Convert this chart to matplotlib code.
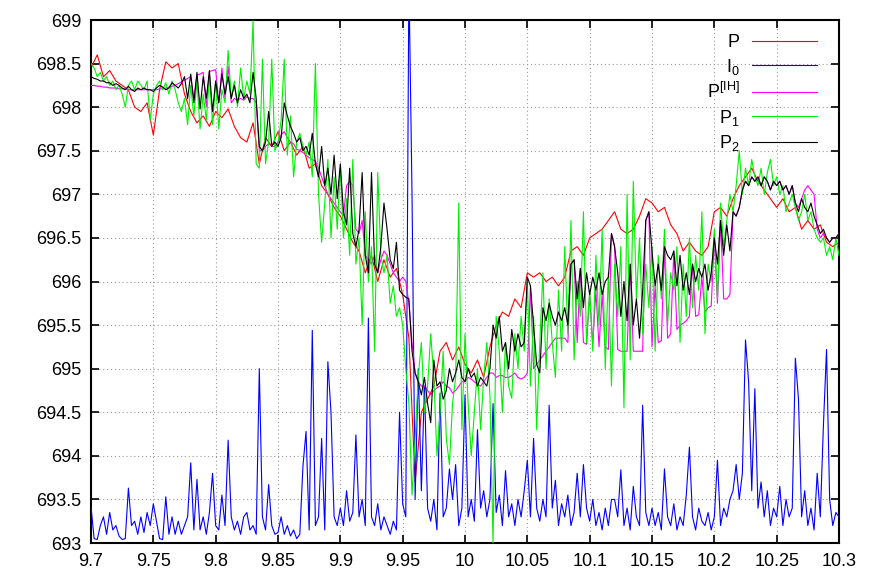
import numpy as np
import matplotlib
matplotlib.use("Agg")
import matplotlib.pyplot as plt

plt.rcParams['font.family'] = ['Liberation Sans', 'DejaVu Sans']
plt.rcParams['mathtext.fontset'] = 'custom'
plt.rcParams['mathtext.rm'] = 'Liberation Sans'
plt.rcParams['mathtext.it'] = 'Liberation Sans'
plt.rcParams['mathtext.default'] = 'regular'

T_START, T_END = 9.7, 10.3

# P (red), sampled every 0.005
P = [698.45, 698.6, 698.35, 698.42, 698.3, 698.25, 698.2, 698.0, 697.95, 698.05,
     697.68, 698.2, 698.52, 698.45, 698.5, 698.15, 697.95, 697.82, 697.9, 697.78,
     697.95, 697.88, 697.98, 697.78, 697.65, 697.6, 697.82, 697.35, 697.65, 697.55,
     697.72, 697.5, 697.6, 697.45, 697.55, 697.3, 697.35, 697.1, 697.0, 696.85,
     696.75, 696.6, 696.45, 696.35, 696.1, 696.3, 696.0, 696.25, 696.05, 696.15,
     695.85, 695.35, 693.7, 694.5, 694.65, 694.8, 695.2, 695.3, 695.1, 695.25,
     695.05, 694.95, 695.1, 694.9, 695.25, 695.5, 695.65, 695.6, 695.8, 695.7,
     696.1, 696.05, 696.1, 696.0, 696.05, 695.95, 696.05, 696.35, 696.4, 696.3,
     696.5, 696.55, 696.6, 696.7, 696.8, 696.6, 696.55, 696.6, 696.75, 696.95,
     696.9, 696.8, 696.85, 696.65, 696.55, 696.35, 696.45, 696.35, 696.3, 696.4,
     696.8, 696.85, 696.75, 696.95, 697.1, 697.2, 697.3, 697.15, 697.05, 696.95,
     696.85, 696.95, 696.8, 696.85, 696.6, 696.7, 696.6, 696.65, 696.45, 696.4,
     696.45]

# I0 (blue), sampled every 0.0025
I0 = [693.42, 693.05, 693.04, 693.2, 693.3, 693.1, 693.35, 693.15, 693.2, 693.08,
      693.04, 693.05, 693.63, 693.2, 693.25, 693.1, 693.3, 693.12, 693.35, 693.2,
      693.45, 693.25, 693.05, 693.04, 693.53, 693.1, 693.3, 693.1, 693.25, 693.1,
      693.2, 693.3, 693.92, 693.15, 693.73, 693.15, 693.3, 693.1, 693.35, 693.8,
      693.2, 693.15, 693.55, 693.2, 694.18, 693.3, 693.15, 693.25, 693.1, 693.3,
      693.35, 693.15, 693.2, 693.1, 695.0, 693.3, 693.15, 693.67, 693.2, 693.1,
      693.12, 693.3, 693.1, 693.2, 693.08, 693.15, 693.05, 693.1, 693.88, 694.28,
      693.15, 695.44, 693.2, 693.3, 694.2, 693.15, 695.08, 694.5, 693.3, 693.2,
      693.4, 693.2, 693.6, 693.25, 693.35, 694.24, 693.3, 693.5, 693.2, 695.58,
      693.3, 693.2, 693.45, 693.15, 693.3, 693.2, 693.1, 693.25, 693.15, 694.5,
      693.45, 693.3, 699.5, 697.0, 693.5, 695.0, 693.6, 694.8, 693.4, 693.25,
      693.5, 693.15, 694.72, 693.3, 693.4, 693.85, 693.5, 693.9, 693.2, 693.4,
      694.7, 693.3, 693.5, 693.25, 694.3, 693.4, 693.6, 693.3, 693.5, 694.6,
      693.35, 693.55, 693.2, 693.83, 693.3, 693.45, 693.2, 693.5, 693.3, 693.6,
      693.95, 693.3, 694.2, 693.4, 693.25, 693.5, 693.3, 694.58, 693.4, 693.72,
      693.2, 693.45, 693.3, 693.55, 693.2, 693.35, 693.8, 693.3, 693.9, 693.4,
      693.25, 693.5, 693.2, 693.35, 693.15, 693.4, 693.2, 693.5, 693.5, 693.3,
      693.84, 693.2, 693.4, 693.15, 693.65, 693.3, 693.2, 694.58, 693.35, 693.2,
      693.4, 693.2, 693.35, 693.15, 693.85, 693.3, 693.2, 693.45, 693.15, 693.3,
      693.2, 693.55, 694.1, 693.3, 693.15, 693.4, 693.25, 693.2, 693.35, 693.15,
      693.3, 693.95, 693.2, 693.4, 693.3, 693.5, 693.6, 693.9, 693.5, 693.8,
      695.33, 694.85, 693.6, 694.77, 693.4, 693.7, 693.3, 693.6, 693.2, 693.4,
      693.3, 693.65, 693.2, 693.5, 693.3, 693.4, 695.12, 694.65, 693.3, 693.6,
      693.2, 693.4, 693.15, 693.8, 693.3, 694.35, 695.22, 693.5, 693.2, 693.35,
      693.3]

# P^[IH] (magenta), sampled every 0.0025
P_IH = [698.25, 698.25, 698.24, 698.24, 698.23, 698.23, 698.22, 698.22, 698.22, 698.21,
        698.21, 698.21, 698.2, 698.2, 698.2, 698.2, 698.2, 698.2, 698.2, 698.2,
        698.2, 698.2, 698.21, 698.21, 698.22, 698.23, 698.24, 698.25, 698.27, 698.29,
        698.31, 698.33, 698.35, 698.1, 698.37, 698.38, 698.4, 698.0, 698.41, 698.42,
        698.43, 698.05, 698.45, 698.1, 698.47, 698.05, 698.1, 698.08, 698.1, 698.08,
        698.12, 698.1, 698.1, 698.05, 697.5, 697.5, 697.55, 697.58, 697.55, 697.55,
        697.6, 697.68, 697.72, 697.65, 697.6, 697.58, 697.52, 697.5, 697.48, 697.45,
        697.42, 697.4, 697.38, 697.3, 697.2, 697.1, 697.0, 696.95, 696.9, 696.85,
        696.8, 696.75, 697.1, 697.15, 697.1, 696.6, 696.55, 696.7, 696.3, 696.25,
        696.2, 696.3, 696.1, 696.25, 696.35, 696.3, 696.2, 696.1, 696.05, 696.0,
        696.05, 696.0, 695.75, 695.3, 694.95, 694.85, 694.8, 694.8, 694.75, 694.7,
        694.75, 694.78, 694.8, 694.85, 694.8, 694.78, 694.72, 694.75, 694.8, 694.85,
        694.85, 694.9, 694.88, 694.85, 694.82, 694.8, 694.85, 694.9, 694.95, 694.95,
        694.9, 694.92, 694.92, 694.9, 694.9, 694.92, 694.95, 694.9, 694.88, 694.9,
        694.95, 695.95, 695.0, 695.05, 695.1, 695.15, 695.2, 695.25, 695.3, 695.35,
        695.35, 695.35, 695.35, 695.3, 696.2, 696.25, 695.3, 696.15, 695.3, 695.28,
        695.85, 695.28, 695.9, 695.25, 695.85, 695.25, 695.22, 696.55, 696.4, 695.22,
        695.2, 695.2, 695.2, 696.2, 695.2, 695.2, 695.2, 695.2, 696.7, 696.8,
        695.25, 695.95, 695.3, 695.32, 696.4, 695.35, 695.4, 696.35, 695.45, 695.5,
        695.52, 695.55, 695.6, 696.2, 695.6, 695.62, 696.05, 695.65, 695.7, 695.72,
        696.5, 695.75, 696.7, 695.8, 695.8, 695.85, 696.8, 696.75, 696.85, 697.05,
        697.15, 697.1, 697.2, 697.15, 697.2, 697.1, 697.2, 697.15, 697.05, 697.15,
        697.1, 697.15, 697.05, 697.1, 697.0, 697.1, 696.9, 696.85, 696.95, 697.05,
        697.1, 697.05, 697.0, 696.6, 696.5, 696.55, 696.5, 696.45, 696.5, 696.5,
        696.55]

# P1 (green), sampled every 0.0025
P1 = [698.5, 698.45, 698.35, 698.4, 698.3, 698.35, 698.25, 698.3, 698.2, 698.25,
      698.15, 698.0, 698.25, 698.3, 698.2, 698.3, 698.25, 698.2, 698.3, 697.85,
      698.15, 698.25, 698.3, 698.2, 698.28, 698.15, 698.3, 698.2, 698.05, 697.95,
      698.1, 697.8, 698.25, 697.9, 698.3, 697.75, 698.15, 697.85, 698.35, 697.8,
      698.3, 697.75, 698.2, 698.05, 698.65, 698.1, 698.3, 698.0, 698.45, 698.1,
      698.3, 698.15, 698.99, 697.35, 697.3, 698.55, 697.35, 697.6, 698.55, 697.5,
      697.6, 697.85, 698.55, 697.45, 697.9, 697.2, 697.6, 697.7, 697.55, 697.45,
      697.6, 697.2, 698.5, 697.0, 696.45, 696.9, 697.4, 696.5, 697.2, 696.6,
      697.3, 696.5, 696.95, 696.3, 697.4, 696.2, 696.5, 695.5, 696.8, 696.0,
      696.4, 695.2, 697.25, 696.3, 696.1, 696.3, 695.75, 695.95, 695.6, 695.7,
      695.5, 695.0, 694.6, 693.55, 694.2, 694.9, 695.3, 694.5, 694.8, 695.4,
      694.9, 694.0, 694.5, 695.2, 694.2, 693.9, 694.6, 694.9, 696.9, 694.3,
      695.4, 694.6, 694.0, 694.5, 695.0, 694.3, 694.9, 695.3, 694.7, 693.0,
      695.6, 695.2, 694.5, 695.3, 694.8, 694.66, 695.4, 695.0, 695.6, 695.2,
      696.0, 694.8, 695.6, 694.3, 695.3, 696.1, 695.0, 695.8, 695.3, 694.9,
      695.9, 695.2, 696.4, 695.4, 696.7, 695.1, 696.0, 695.6, 696.8, 695.3,
      695.9, 695.2, 696.3, 695.5, 696.6, 695.0, 696.1, 694.8, 696.2, 695.6,
      696.4, 694.55, 697.0, 695.1, 697.15, 695.8, 696.5, 695.4, 696.2, 695.7,
      696.4, 695.2, 696.3, 695.8, 696.6, 695.5, 696.1, 695.9, 696.4, 695.3,
      696.2, 695.6, 696.5, 695.7, 696.3, 695.9, 696.8, 695.4, 696.2, 696.0,
      696.6, 695.8, 696.9, 696.4, 696.7, 697.0, 696.8, 697.1, 697.5, 697.0,
      697.3, 697.1, 697.4, 697.2, 697.1, 697.3, 697.0, 697.25, 697.4, 697.1,
      697.2, 697.0, 697.1, 696.8, 696.9, 697.0, 696.85, 696.7, 696.8, 697.0,
      696.7, 696.8, 696.6, 696.5, 696.45, 696.5, 696.3, 696.4, 696.25, 696.5,
      696.3]

# P2 (black), sampled every 0.0025
P2 = [698.35, 698.33, 698.32, 698.3, 698.3, 698.28, 698.28, 698.25, 698.27, 698.25,
      698.22, 698.2, 698.24, 698.2, 698.18, 698.22, 698.2, 698.22, 698.2, 698.2,
      698.18, 698.22, 698.25, 698.23, 698.2, 698.22, 698.28, 698.25, 698.22, 698.27,
      698.35, 698.1, 698.38, 698.05, 698.4, 697.98, 698.35, 698.1, 698.42, 697.95,
      698.3, 698.05, 698.38, 698.15, 698.35, 698.1, 698.25, 698.05, 698.2, 698.1,
      698.15, 698.05, 698.4, 698.1, 697.55, 697.5, 697.6, 697.95, 697.55, 697.6,
      697.55, 697.65, 698.05, 697.9, 697.78, 697.7, 697.6, 697.65, 697.5, 697.55,
      697.45, 697.7, 697.35, 697.2, 697.55, 697.1, 697.3, 697.0, 697.45, 696.95,
      697.35, 696.8, 696.65, 697.3, 696.55, 696.4, 696.6, 697.25, 696.3, 696.1,
      697.25, 696.2, 696.1, 696.4, 696.9, 696.6, 696.25, 696.15, 696.45, 695.9,
      695.85, 695.82, 695.8, 695.2, 694.95, 694.85, 694.7, 694.9, 694.6, 694.38,
      695.1, 694.8, 694.85, 694.65, 694.75, 695.0, 694.85, 694.95, 695.1, 694.9,
      694.85, 695.0, 694.9, 694.95, 694.8, 694.9, 694.85, 694.8, 695.0, 695.5,
      695.35, 695.6, 695.2, 695.3, 695.0, 695.45, 695.2, 695.4, 695.25, 695.3,
      696.05, 695.95, 695.5, 695.05, 694.95, 695.7, 695.55, 695.75, 695.6, 695.5,
      695.65, 695.55, 695.7, 695.5, 696.2, 696.25, 695.8, 696.15, 695.7, 696.1,
      695.85, 696.05, 695.9, 696.1, 695.85, 696.0, 696.05, 696.55, 696.4, 696.1,
      695.6, 696.0, 695.55, 696.2, 695.5, 695.8, 695.35, 695.9, 696.7, 696.8,
      696.35, 695.95, 696.2, 695.9, 696.4, 696.3, 696.25, 696.35, 695.95, 696.3,
      695.9, 696.1, 695.85, 696.2, 696.0, 696.15, 696.05, 696.2, 695.9, 696.1,
      696.5, 696.2, 696.7, 696.3, 696.65, 696.35, 696.8, 696.75, 696.85, 697.05,
      697.15, 697.1, 697.2, 697.15, 697.2, 697.1, 697.2, 697.15, 697.05, 697.15,
      697.1, 697.15, 697.05, 697.1, 697.0, 697.1, 696.9, 696.8, 696.95, 696.85,
      696.8, 696.9, 696.75, 696.65, 696.55, 696.6, 696.5, 696.45, 696.5, 696.5,
      696.55]

series = [
    (P, "P", "#ff0000"),
    (I0, r"I$_0$", "#0000ff"),
    (P_IH, r"P$^{[IH]}$", "#ff00ff"),
    (P1, r"P$_1$", "#00f000"),
    (P2, r"P$_2$", "#000000"),
]

X_TICKS = [9.7, 9.75, 9.8, 9.85, 9.9, 9.95, 10.0, 10.05, 10.1, 10.15, 10.2, 10.25, 10.3]
X_LABELS = ["9.7", "9.75", "9.8", "9.85", "9.9", "9.95", "10", "10.05", "10.1", "10.15", "10.2", "10.25", "10.3"]
Y_TICKS = [693, 693.5, 694, 694.5, 695, 695.5, 696, 696.5, 697, 697.5, 698, 698.5, 699]
Y_LABELS = ["693", "693.5", "694", "694.5", "695", "695.5", "696", "696.5", "697", "697.5", "698", "698.5", "699"]

fig = plt.figure(figsize=(8.72, 5.80), dpi=100)
ax = fig.add_axes([91/872, 1 - 543/580, (839 - 91)/872, (543 - 20)/580])

for z, (vals, label, color) in enumerate(series):
    t = np.linspace(T_START, T_END, len(vals))
    ax.plot(t, vals, color=color, lw=0.8, label=label, zorder=2 + z)

ax.set_xlim(T_START, T_END)
ax.set_ylim(693, 699)
ax.set_xticks(X_TICKS)
ax.set_xticklabels(X_LABELS)
ax.set_yticks(Y_TICKS)
ax.set_yticklabels(Y_LABELS)
ax.tick_params(direction='in', length=6, width=1.2, top=True, right=True,
               labelsize=13, pad=7)
ax.grid(True, color='#9a9a9a', linestyle=(0, (1, 2.5)), linewidth=0.8, zorder=1)
for s in ax.spines.values():
    s.set_linewidth(1.5)

leg = ax.legend(loc='upper right', bbox_to_anchor=(0.983, 0.99), frameon=False,
                markerfirst=False, fontsize=13, handlelength=3.6,
                handletextpad=0.7, labelspacing=0.3, borderpad=0)
leg.set_zorder(20)

fig.savefig("out.png", dpi=100)
